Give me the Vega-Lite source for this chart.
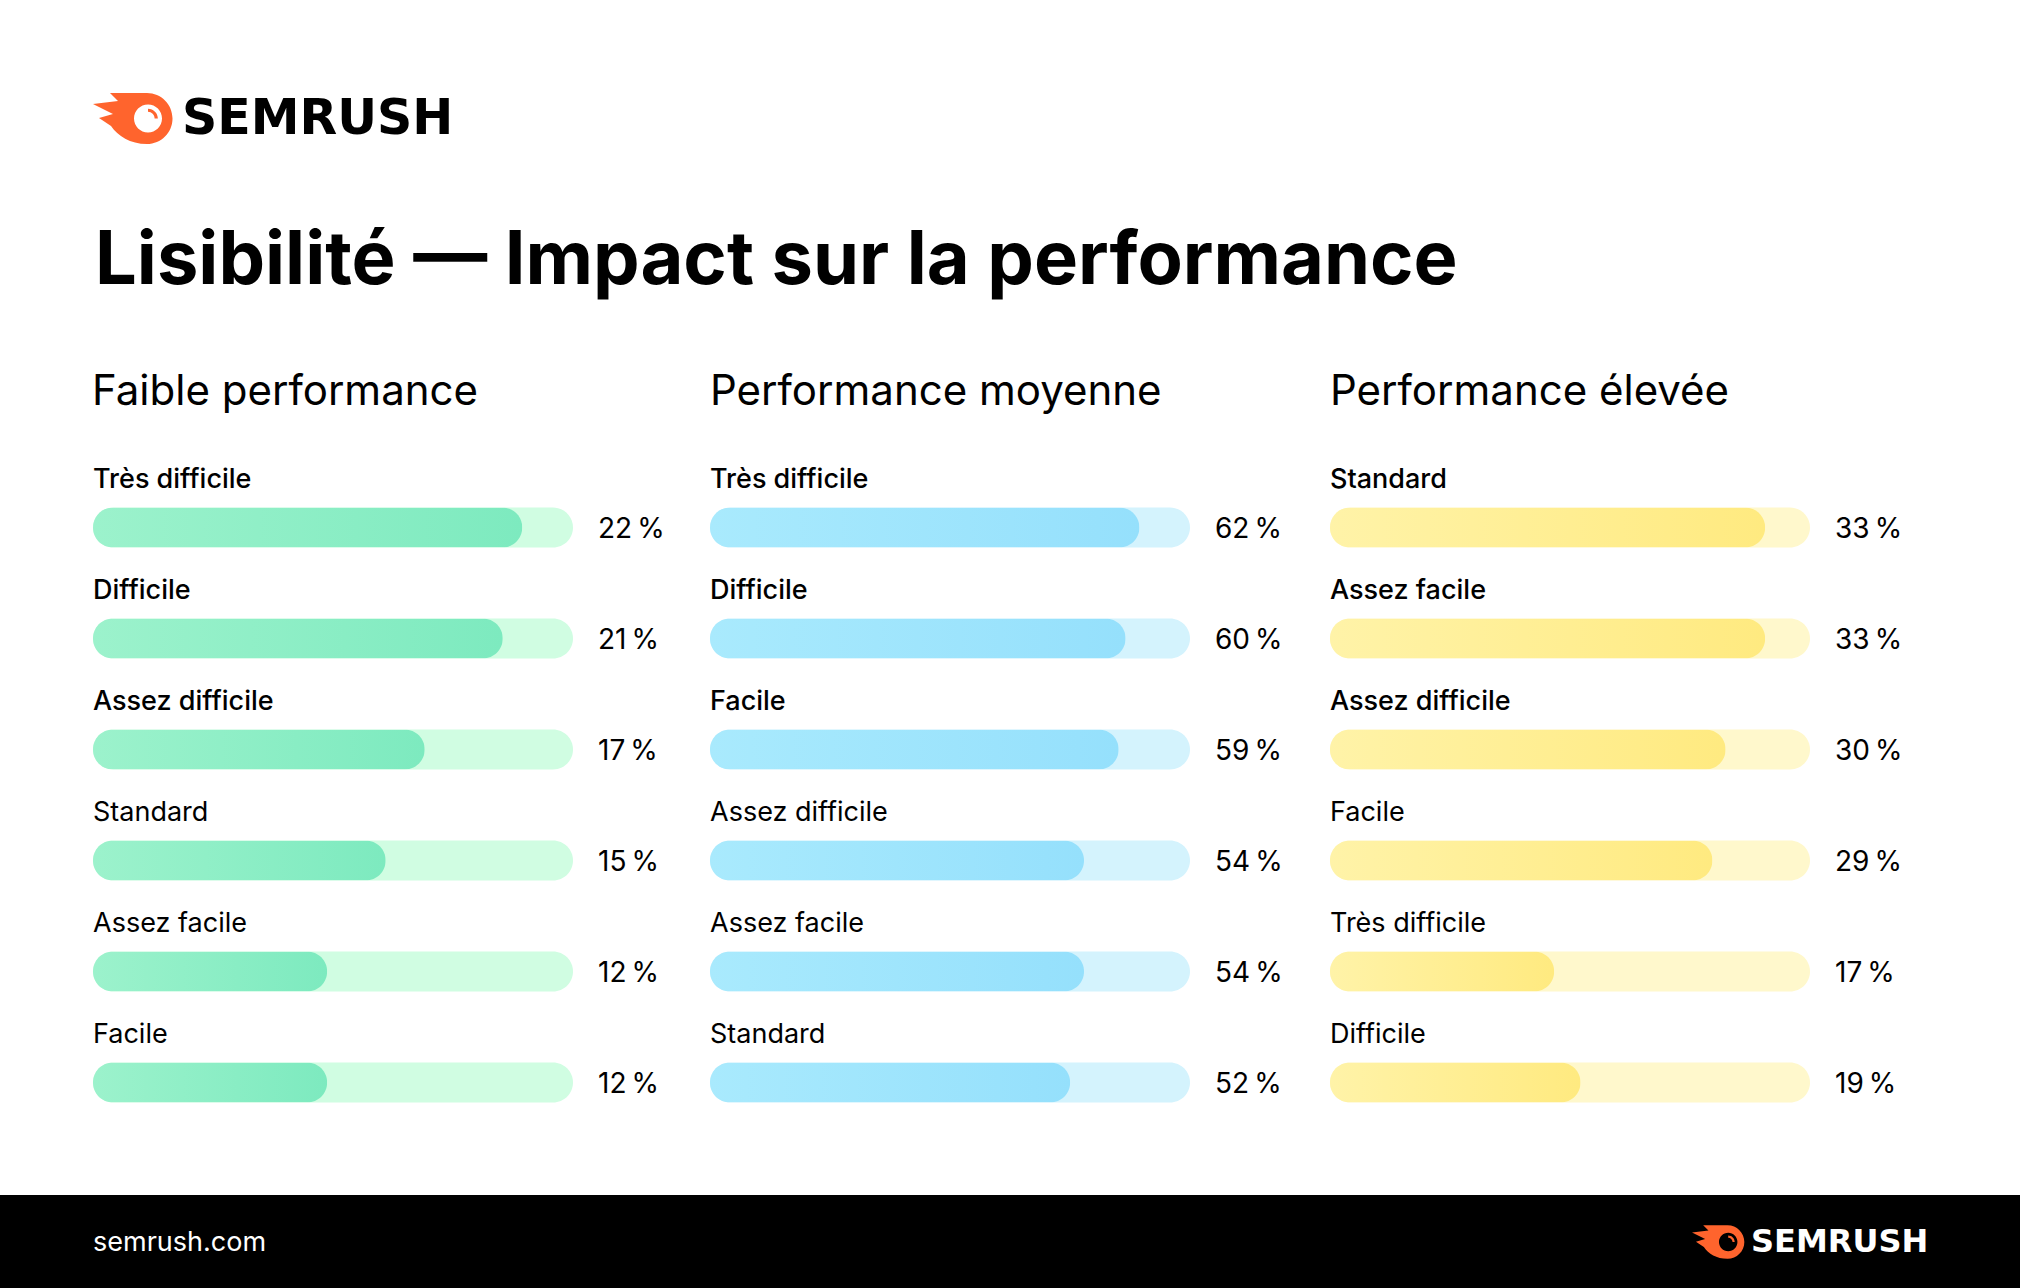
{
  "$schema": "https://vega.github.io/schema/vega-lite/v6.json",
  "background": "white",
  "padding": 0,
  "autosize": {"type": "pad"},
  "spacing": 0,
  "resolve": {"scale": {"color": "independent"}, "legend": {"color": "independent"}},
  "config": {
    "view": {"stroke": null, "fill": "white"},
    "font": "Inter",
    "locale": {"number": {"decimal": ",", "thousands": "\u00a0", "grouping": [3], "currency": ["", "\u00a0€"], "percent": "\u202f%"}}
  },
  "datasets": {
    "faible": [
      {"rank": 1, "cat": "Très difficile", "value": 0.22},
      {"rank": 2, "cat": "Difficile", "value": 0.21},
      {"rank": 3, "cat": "Assez difficile", "value": 0.17},
      {"rank": 4, "cat": "Standard", "value": 0.15},
      {"rank": 5, "cat": "Assez facile", "value": 0.12},
      {"rank": 6, "cat": "Facile", "value": 0.12}
    ],
    "moyenne": [
      {"rank": 1, "cat": "Très difficile", "value": 0.62},
      {"rank": 2, "cat": "Difficile", "value": 0.60},
      {"rank": 3, "cat": "Facile", "value": 0.59},
      {"rank": 4, "cat": "Assez difficile", "value": 0.54},
      {"rank": 5, "cat": "Assez facile", "value": 0.54},
      {"rank": 6, "cat": "Standard", "value": 0.52}
    ],
    "elevee": [
      {"rank": 1, "cat": "Standard", "value": 0.33},
      {"rank": 2, "cat": "Assez facile", "value": 0.33},
      {"rank": 3, "cat": "Assez difficile", "value": 0.30},
      {"rank": 4, "cat": "Facile", "value": 0.29},
      {"rank": 5, "cat": "Très difficile", "value": 0.17},
      {"rank": 6, "cat": "Difficile", "value": 0.19}
    ],
    "brand": [{"brand": "SEMRUSH"}]
  },
  "vconcat": [
    {
      "width": 2020,
      "height": 330,
      "data": {"name": "brand"},
      "title": {"text": "Lisibilité — Impact sur la performance", "orient": "top", "anchor": "start", "frame": "group", "dx": 95, "offset": -358, "baseline": "alphabetic", "font": "Inter", "fontSize": 74, "fontWeight": "bold", "color": "#000000"},
      "mark": {"type": "point", "filled": true, "opacity": 0},
      "encoding": {
        "color": {
          "field": "brand", "type": "nominal",
          "scale": {"range": ["#ff642d"]},
          "legend": {
            "orient": "none", "legendX": 93, "legendY": 79, "title": null, "padding": 0,
            "symbolType": "M -0.57 -0.646 L 0.367 -0.646 A 0.646 0.646 0 0 1 0.367 0.646 C -0.063 0.646 -0.367 0.443 -0.544 0.19 L -0.848 -0.013 L -0.494 -0.114 L -1 -0.367 L -0.367 -0.443 Z M 0.747 0 A 0.354 0.354 0 1 0 0.038 0 A 0.354 0.354 0 1 0 0.747 0 Z M 0.392 -0.25 A 0.25 0.25 0 0 1 0.642 0 L 0.56 0 A 0.168 0.168 0 0 0 0.392 -0.168 Z",
            "symbolSize": 6241, "symbolStrokeWidth": 0, "symbolOpacity": 1, "symbolFillColor": "#ff642d",
            "labelColor": "#000000", "labelFont": "DejaVu Sans", "labelFontSize": 49, "labelFontWeight": "bold", "labelOffset": 10, "labelLimit": 0
          }
        }
      }
    },
    {
      "hconcat": [
        {
          "width": 710,
          "height": 865,
          "data": {"name": "faible"},
          "title": {"text": "Faible performance", "orient": "top", "anchor": "start", "frame": "group", "dx": 92, "offset": -117, "baseline": "alphabetic", "font": "Inter", "fontSize": 42, "fontWeight": "normal", "color": "#000000"},
          "encoding": {"y": {"field": "rank", "type": "ordinal", "axis": null, "scale": {"type": "band", "domain": [1, 2, 3, 4, 5, 6], "range": [142, 808], "paddingInner": 0, "paddingOuter": 0}}},
          "layer": [
            {"mark": {"type": "bar", "cornerRadius": 20, "size": 40, "color": "#d0fde2"}, "encoding": {"x": {"datum": 0, "type": "quantitative", "axis": null, "scale": {"domain": [0, 0.246], "range": [93, 573], "nice": false, "zero": true}}, "x2": {"datum": 0.246}}},
            {"mark": {"type": "bar", "cornerRadius": 20, "size": 40, "color": {"gradient": "linear", "x1": 0, "y1": 0, "x2": 1, "y2": 0, "stops": [{"offset": 0, "color": "#9cf2cc"}, {"offset": 1, "color": "#7deabf"}]}}, "encoding": {"x": {"field": "value", "type": "quantitative"}}},
            {"transform": [{"filter": "datum.rank <= 3"}], "mark": {"type": "text", "align": "left", "baseline": "alphabetic", "dy": -40, "font": "Inter", "fontSize": 27, "fontWeight": 500, "color": "#000000"}, "encoding": {"x": {"datum": 0, "type": "quantitative"}, "text": {"field": "cat"}}},
            {"transform": [{"filter": "datum.rank > 3"}], "mark": {"type": "text", "align": "left", "baseline": "alphabetic", "dy": -40, "font": "Inter", "fontSize": 27, "fontWeight": "normal", "color": "#000000"}, "encoding": {"x": {"datum": 0, "type": "quantitative"}, "text": {"field": "cat"}}},
            {"mark": {"type": "text", "align": "left", "baseline": "alphabetic", "dx": 25, "dy": 10, "font": "Inter", "fontSize": 28, "color": "#000000"}, "encoding": {"x": {"datum": 0.246, "type": "quantitative"}, "text": {"field": "value", "type": "quantitative", "format": ".0%"}}}
          ]
        },
        {
          "width": 620,
          "height": 865,
          "data": {"name": "moyenne"},
          "title": {"text": "Performance moyenne", "orient": "top", "anchor": "start", "frame": "group", "dx": 0, "offset": -117, "baseline": "alphabetic", "font": "Inter", "fontSize": 42, "fontWeight": "normal", "color": "#000000"},
          "encoding": {"y": {"field": "rank", "type": "ordinal", "axis": null, "scale": {"type": "band", "domain": [1, 2, 3, 4, 5, 6], "range": [142, 808], "paddingInner": 0, "paddingOuter": 0}}},
          "layer": [
            {"mark": {"type": "bar", "cornerRadius": 20, "size": 40, "color": "#d4f3fd"}, "encoding": {"x": {"datum": 0, "type": "quantitative", "axis": null, "scale": {"domain": [0, 0.693], "range": [0, 480], "nice": false, "zero": true}}, "x2": {"datum": 0.693}}},
            {"mark": {"type": "bar", "cornerRadius": 20, "size": 40, "color": {"gradient": "linear", "x1": 0, "y1": 0, "x2": 1, "y2": 0, "stops": [{"offset": 0, "color": "#a9eafd"}, {"offset": 1, "color": "#95e0fc"}]}}, "encoding": {"x": {"field": "value", "type": "quantitative"}}},
            {"transform": [{"filter": "datum.rank <= 3"}], "mark": {"type": "text", "align": "left", "baseline": "alphabetic", "dy": -40, "font": "Inter", "fontSize": 27, "fontWeight": 500, "color": "#000000"}, "encoding": {"x": {"datum": 0, "type": "quantitative"}, "text": {"field": "cat"}}},
            {"transform": [{"filter": "datum.rank > 3"}], "mark": {"type": "text", "align": "left", "baseline": "alphabetic", "dy": -40, "font": "Inter", "fontSize": 27, "fontWeight": "normal", "color": "#000000"}, "encoding": {"x": {"datum": 0, "type": "quantitative"}, "text": {"field": "cat"}}},
            {"mark": {"type": "text", "align": "left", "baseline": "alphabetic", "dx": 25, "dy": 10, "font": "Inter", "fontSize": 28, "color": "#000000"}, "encoding": {"x": {"datum": 0.693, "type": "quantitative"}, "text": {"field": "value", "type": "quantitative", "format": ".0%"}}}
          ]
        },
        {
          "width": 690,
          "height": 865,
          "data": {"name": "elevee"},
          "title": {"text": "Performance élevée", "orient": "top", "anchor": "start", "frame": "group", "dx": 0, "offset": -117, "baseline": "alphabetic", "font": "Inter", "fontSize": 42, "fontWeight": "normal", "color": "#000000"},
          "encoding": {"y": {"field": "rank", "type": "ordinal", "axis": null, "scale": {"type": "band", "domain": [1, 2, 3, 4, 5, 6], "range": [142, 808], "paddingInner": 0, "paddingOuter": 0}}},
          "layer": [
            {"mark": {"type": "bar", "cornerRadius": 20, "size": 40, "color": "#fff8cc"}, "encoding": {"x": {"datum": 0, "type": "quantitative", "axis": null, "scale": {"domain": [0, 0.364], "range": [0, 480], "nice": false, "zero": true}}, "x2": {"datum": 0.364}}},
            {"mark": {"type": "bar", "cornerRadius": 20, "size": 40, "color": {"gradient": "linear", "x1": 0, "y1": 0, "x2": 1, "y2": 0, "stops": [{"offset": 0, "color": "#fff3a8"}, {"offset": 1, "color": "#ffea80"}]}}, "encoding": {"x": {"field": "value", "type": "quantitative"}}},
            {"transform": [{"filter": "datum.rank <= 3"}], "mark": {"type": "text", "align": "left", "baseline": "alphabetic", "dy": -40, "font": "Inter", "fontSize": 27, "fontWeight": 500, "color": "#000000"}, "encoding": {"x": {"datum": 0, "type": "quantitative"}, "text": {"field": "cat"}}},
            {"transform": [{"filter": "datum.rank > 3"}], "mark": {"type": "text", "align": "left", "baseline": "alphabetic", "dy": -40, "font": "Inter", "fontSize": 27, "fontWeight": "normal", "color": "#000000"}, "encoding": {"x": {"datum": 0, "type": "quantitative"}, "text": {"field": "cat"}}},
            {"mark": {"type": "text", "align": "left", "baseline": "alphabetic", "dx": 25, "dy": 10, "font": "Inter", "fontSize": 28, "color": "#000000"}, "encoding": {"x": {"datum": 0.364, "type": "quantitative"}, "text": {"field": "value", "type": "quantitative", "format": ".0%"}}}
          ]
        }
      ],
      "spacing": 0
    },
    {
      "width": 2020,
      "height": 93,
      "view": {"fill": "#000000", "stroke": null},
      "data": {"name": "brand"},
      "title": {"text": "semrush.com", "orient": "top", "anchor": "start", "frame": "group", "dx": 93, "offset": -83, "baseline": "alphabetic", "font": "Inter", "fontSize": 27, "fontWeight": "normal", "color": "#ffffff"},
      "mark": {"type": "point", "filled": true, "opacity": 0},
      "encoding": {
        "color": {
          "field": "brand", "type": "nominal",
          "scale": {"range": ["#ff642d"]},
          "legend": {
            "orient": "none", "legendX": 1692, "legendY": 21, "title": null, "padding": 0,
            "symbolType": "M -0.57 -0.646 L 0.367 -0.646 A 0.646 0.646 0 0 1 0.367 0.646 C -0.063 0.646 -0.367 0.443 -0.544 0.19 L -0.848 -0.013 L -0.494 -0.114 L -1 -0.367 L -0.367 -0.443 Z M 0.747 0 A 0.354 0.354 0 1 0 0.038 0 A 0.354 0.354 0 1 0 0.747 0 Z M 0.392 -0.25 A 0.25 0.25 0 0 1 0.642 0 L 0.56 0 A 0.168 0.168 0 0 0 0.392 -0.168 Z",
            "symbolSize": 2704, "symbolStrokeWidth": 0, "symbolOpacity": 1, "symbolFillColor": "#ff642d",
            "labelColor": "#ffffff", "labelFont": "DejaVu Sans", "labelFontSize": 32, "labelFontWeight": "bold", "labelOffset": 7, "labelLimit": 0
          }
        }
      }
    }
  ]
}
